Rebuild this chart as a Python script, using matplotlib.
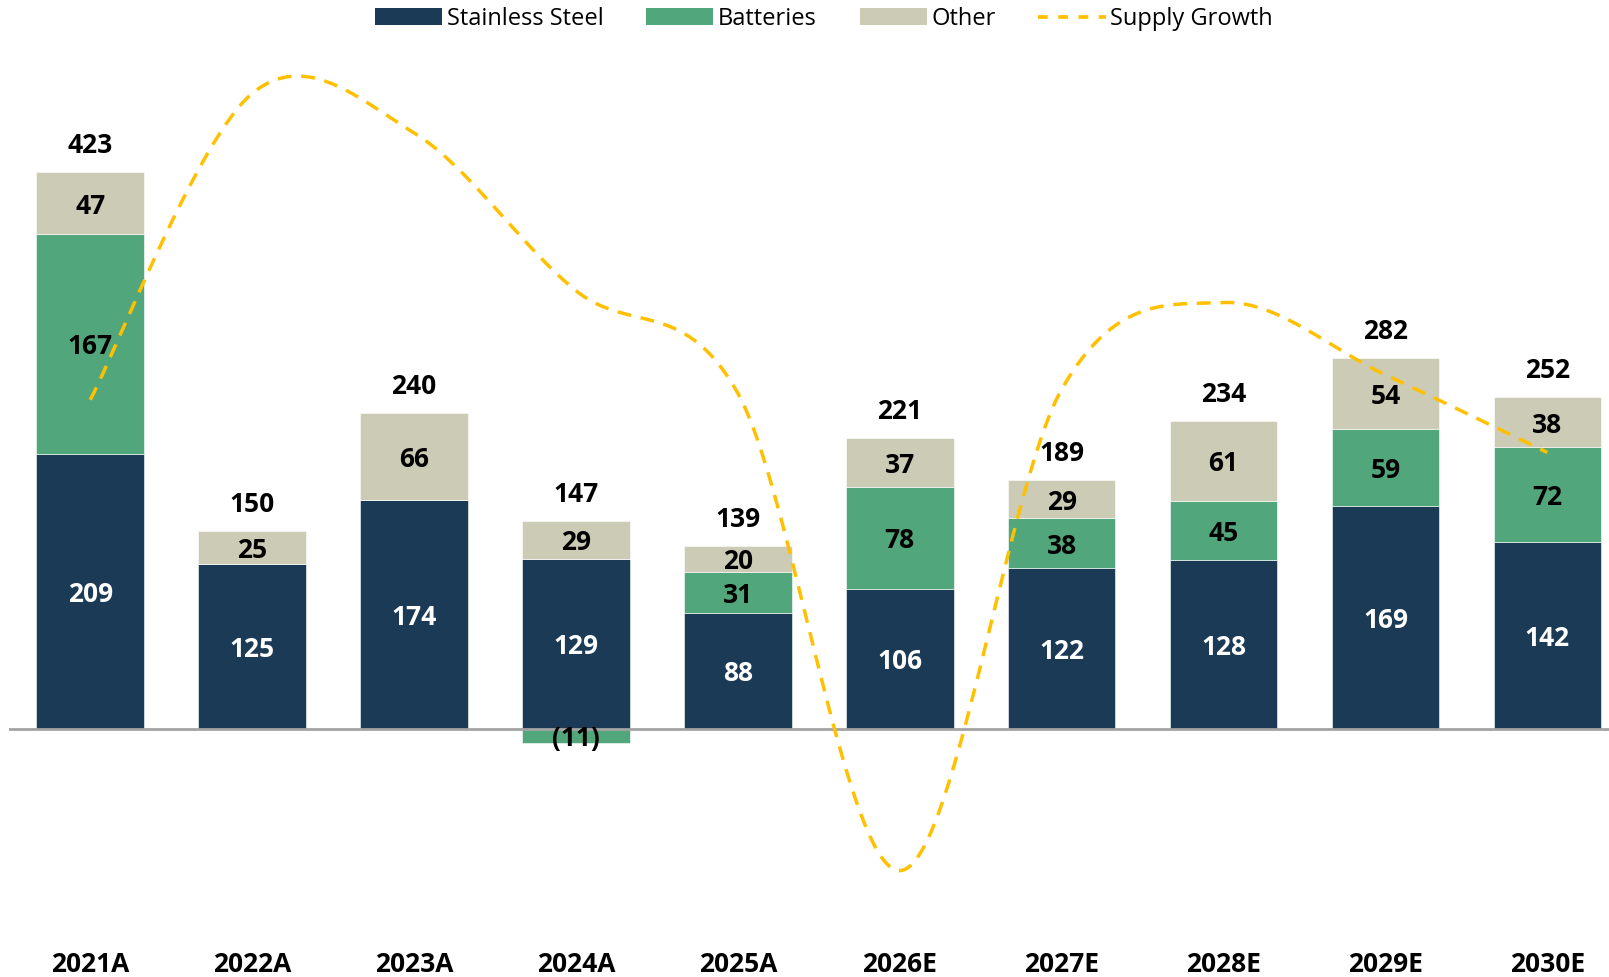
import numpy as np
import matplotlib
matplotlib.use("Agg")
import matplotlib.pyplot as plt
from matplotlib.patches import Patch
from matplotlib.lines import Line2D

plt.rcParams['font.family'] = ['Open Sans', 'DejaVu Sans']

categories = ["2021A", "2022A", "2023A", "2024A", "2025A",
              "2026E", "2027E", "2028E", "2029E", "2030E"]
stainless = [209, 125, 174, 129, 88, 106, 122, 128, 169, 142]
batteries = [167, 0, 0, -11, 31, 78, 38, 45, 59, 72]
other = [47, 25, 66, 29, 20, 37, 29, 61, 54, 38]
supply_growth = [250, 483, 453, 333, 255, -108, 258, 324, 269, 210]

C_SS = "#1B3A56"
C_BAT = "#52A67B"
C_OTH = "#CCCBB5"
C_LINE = "#FFC000"

W, H = 1609, 977
fig = plt.figure(figsize=(W / 100, H / 100), dpi=100)

# pixel layout
px_per_unit = 1.315
zero_y = 728.6
left_px = 9.3
spacing_px = 161.9
ax = fig.add_axes([left_px / W, 0.0, 10 * spacing_px / W, 1.0])
ax.set_xlim(-0.5, 9.5)
ax.set_ylim((zero_y - H) / px_per_unit, zero_y / px_per_unit)
ax.axis('off')

x = np.arange(len(categories))
bw = 0.665
ss = np.array(stainless, float)
bt = np.array(batteries, float)
ot = np.array(other, float)

pos_bt = np.where(bt > 0, bt, 0)
neg_bt = np.where(bt < 0, bt, 0)

ax.bar(x, ss, bw, color=C_SS, edgecolor='white', linewidth=0.4, zorder=2)
ax.bar(x, pos_bt, bw, bottom=ss, color=C_BAT, edgecolor='white', linewidth=0.4, zorder=2)
ax.bar(x, neg_bt, bw, bottom=0, color=C_BAT, edgecolor='white', linewidth=0.4, zorder=2)
ax.bar(x, ot, bw, bottom=ss + pos_bt, color=C_OTH, edgecolor='white', linewidth=0.4, zorder=2)

ax.axhline(0, color='#A3A3A3', lw=2.0, zorder=3)

fs = 19
for i in range(len(categories)):
    ax.text(x[i], ss[i] / 2, f"{int(ss[i])}", ha='center', va='center_baseline',
            color='white', fontsize=fs, fontweight='bold', zorder=6)
    if bt[i] > 0:
        ax.text(x[i], ss[i] + bt[i] / 2, f"{int(bt[i])}", ha='center', va='center_baseline',
                color='black', fontsize=fs, fontweight='bold', zorder=6)
    elif bt[i] < 0:
        ax.text(x[i], bt[i] / 2, f"({int(-bt[i])})", ha='center', va='center_baseline',
                color='black', fontsize=fs, fontweight='bold', zorder=6)
    top = ss[i] + pos_bt[i]
    ax.text(x[i], top + ot[i] / 2, f"{int(ot[i])}", ha='center', va='center_baseline',
            color='black', fontsize=fs, fontweight='bold', zorder=6)
    total = ss[i] + bt[i] + ot[i]
    ax.text(x[i], top + ot[i] + 22.5, f"{int(total)}", ha='center', va='center_baseline',
            color='black', fontsize=fs, fontweight='bold', zorder=6)
    ax.text(x[i], (zero_y - 961) / px_per_unit, categories[i], ha='center',
            va='center_baseline', color='black', fontsize=fs, fontweight='bold')

# smoothed line (Excel-style Catmull-Rom Bezier)
p = np.array(supply_growth, float)
xs, ys = [], []
n = len(p)
for i in range(n - 1):
    p0 = p[i - 1] if i > 0 else p[i]
    p3 = p[i + 2] if i + 2 < n else p[i + 1]
    x0 = x[i - 1] if i > 0 else x[i]
    x3 = x[i + 2] if i + 2 < n else x[i + 1]
    b0y, b3y = p[i], p[i + 1]
    b1y = p[i] + (p[i + 1] - p0) / 6
    b2y = p[i + 1] - (p3 - p[i]) / 6
    b0x, b3x = x[i], x[i + 1]
    b1x = x[i] + (x[i + 1] - x0) / 6
    b2x = x[i + 1] - (x3 - x[i]) / 6
    t = np.linspace(0, 1, 60, endpoint=(i == n - 2))
    mt = 1 - t
    xs.append(mt**3 * b0x + 3 * mt**2 * t * b1x + 3 * mt * t**2 * b2x + t**3 * b3x)
    ys.append(mt**3 * b0y + 3 * mt**2 * t * b1y + 3 * mt * t**2 * b2y + t**3 * b3y)
xs = np.concatenate(xs)
ys = np.concatenate(ys)
ax.plot(xs, ys, color=C_LINE, lw=2.5, linestyle=(0, (4.0, 2.8)), zorder=5)

handles = [Patch(facecolor=C_SS), Patch(facecolor=C_BAT), Patch(facecolor=C_OTH),
           Line2D([0], [0], color=C_LINE, lw=2.7, linestyle=(0, (2.6, 2.8)))]
labels = ["Stainless Steel", "Batteries", "Other", "Supply Growth"]
fig.legend(handles, labels, loc='center', bbox_to_anchor=(824 / W, 1 - 19 / H),
           ncol=4, frameon=False, fontsize=17, handlelength=2.85, handleheight=0.75,
           handletextpad=0.2, columnspacing=1.8, borderaxespad=0, borderpad=0)

fig.savefig("out.png", dpi=100)
